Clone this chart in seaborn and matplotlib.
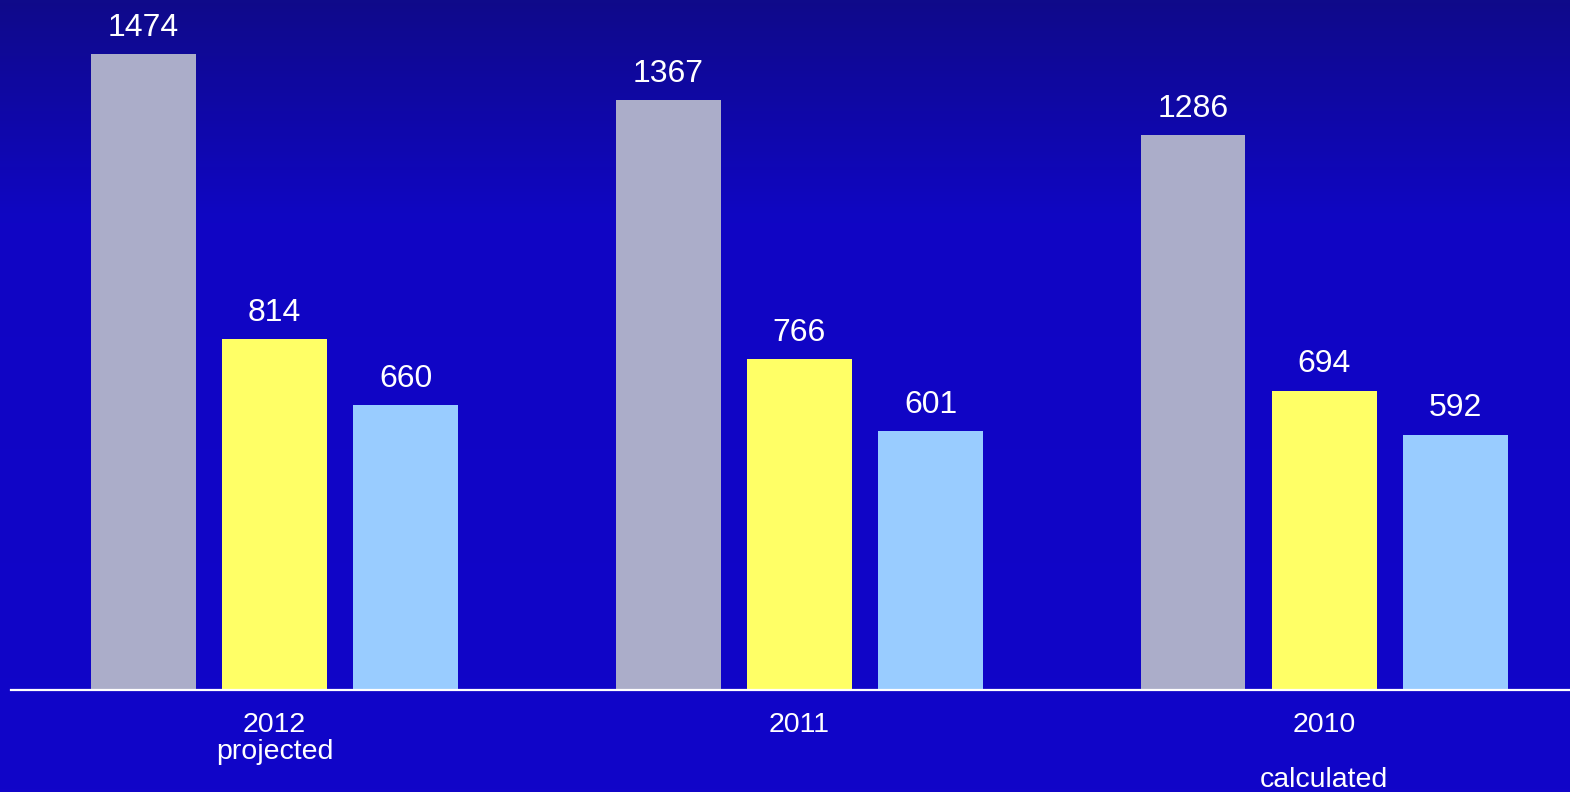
import numpy as np
import pandas as pd
import matplotlib
matplotlib.use("Agg")
import matplotlib.pyplot as plt
from matplotlib.colors import LinearSegmentedColormap
import seaborn as sns

# Data
years = ["2012", "2011", "2010"]
tick_labels = ["2012\nprojected", "2011", "2010\n\ncalculated"]
series = ["Total", "Group A", "Group B"]
total_vals = [1474, 1367, 1286]
group_a_vals = [814, 766, 694]
group_b_vals = [660, 601, 592]
colors = ["#ABADC9", "#FFFF66", "#99CCFF"]

df = pd.DataFrame({
    "year": years * 3,
    "series": [series[0]] * 3 + [series[1]] * 3 + [series[2]] * 3,
    "value": total_vals + group_a_vals + group_b_vals,
})

sns.set_theme(style="white")
plt.rcParams["font.family"] = ["Liberation Sans", "DejaVu Sans"]

W, H = 1570, 792
fig = plt.figure(figsize=(W / 100, H / 100), dpi=100)

# Vertical gradient background: dark navy at the top, saturated blue below
bg = fig.add_axes([0, 0, 1, 1], zorder=0)
grad_cmap = LinearSegmentedColormap.from_list(
    "bg", [(0.0, "#0F0A8A"), (0.28, "#1006C4"), (1.0, "#1105C9")]
)
bg.imshow(np.linspace(0, 1, 256).reshape(-1, 1), aspect="auto", cmap=grad_cmap,
          extent=[0, 1, 0, 1], origin="upper")
bg.set_axis_off()

base_y = 690
ax = fig.add_axes([11 / W, (H - base_y) / H, 1 - 11 / W, base_y / H], zorder=1)
ax.patch.set_alpha(0)

sns.barplot(data=df, x="year", y="value", hue="series", order=years,
            hue_order=series, palette=colors, width=0.75, gap=0.2,
            saturation=1, edgecolor="none", linewidth=0, legend=False, ax=ax)

for cont in ax.containers:
    ax.bar_label(cont, fmt="%d", padding=8, fontsize=23, color="white")

ax.set_xlim(-0.5025, 2.4685)
ax.set_ylim(0, 1599)
ax.set_xlabel("")
ax.set_ylabel("")
ax.set_yticks([])
ax.set_xticks(range(len(years)))
ax.set_xticklabels(tick_labels, fontsize=20.5, color="white", linespacing=1.08)
ax.tick_params(axis="x", length=0, pad=15.5)

for side in ["top", "left", "right"]:
    ax.spines[side].set_visible(False)
ax.spines["bottom"].set_color("white")
ax.spines["bottom"].set_linewidth(1.6)

fig.savefig("out.png", dpi=100)
